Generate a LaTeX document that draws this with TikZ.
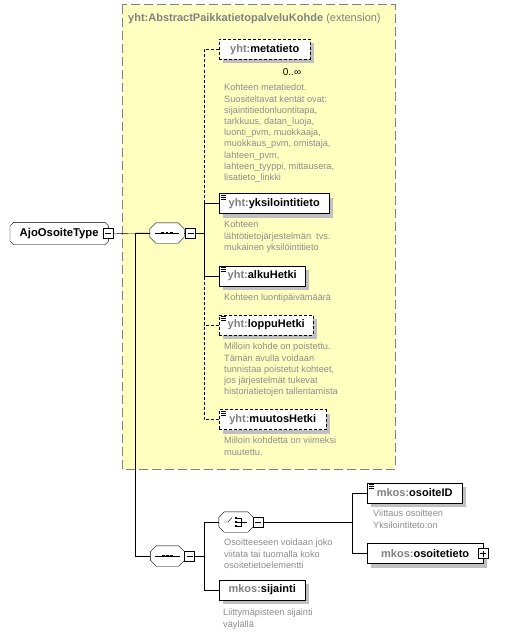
\documentclass[tikz,border=0pt]{standalone}
\usepackage{fontspec}
\setmainfont{Liberation Sans}
\usetikzlibrary{calc, positioning, shadows, backgrounds}
\definecolor{extfill}{RGB}{255,255,192}
\definecolor{extline}{RGB}{128,128,128}
\definecolor{nsgray}{RGB}{128,128,128}
\definecolor{desccol}{RGB}{140,140,140}
\definecolor{shadowgray}{RGB}{192,192,192}
\pgfdeclarelayer{back}
\pgfdeclarelayer{shapes}
\pgfsetlayers{back,shapes,main}
\newcommand{\pfx}[1]{{\color{nsgray}#1:}}
\newcommand{\annot}[1]{\foreach \k in {2,4,6} \draw[line width=0.8pt] ([xshift=1.5pt,yshift=-\k pt]#1.north west) -- ++(5,0);}
\newcommand{\octpath}[2]{([xshift=#2]#1.north west) -- ([xshift=-#2]#1.north east) -- ([yshift=-#2]#1.north east) -- ([yshift=#2]#1.south east) -- ([xshift=-#2]#1.south east) -- ([xshift=#2]#1.south west) -- ([yshift=#2]#1.south west) -- ([yshift=-#2]#1.north west) -- cycle}
\newcommand{\octa}[2]{\begin{pgfonlayer}{shapes}
  \fill[shadowgray, xshift=4pt, yshift=-4pt] \octpath{#1}{#2};
  \filldraw[fill=white] \octpath{#1}{#2};
\end{pgfonlayer}}

\begin{document}
\begin{tikzpicture}[x=1pt, y=-1pt,
  shadowed/.style={drop shadow={shadow xshift=4pt, shadow yshift=-4pt, fill=shadowgray, opacity=1}},
  elem/.style={draw, fill=white, anchor=west, minimum height=20pt, inner sep=0pt, font=\fontsize{11}{13}\selectfont\bfseries, shadowed},
  optelem/.style={elem, dash pattern=on 3pt off 2pt},
  seqbox/.style={minimum width=34pt, minimum height=20pt, inner sep=0pt},
  typebox/.style={minimum width=98pt, minimum height=22pt, inner sep=0pt, anchor=west, font=\fontsize{11.3}{13}\selectfont\bfseries},
  pm/.style={draw, fill=white, minimum size=10pt, inner sep=0pt, path picture={\draw ([xshift=2pt]path picture bounding box.west) -- ([xshift=-2pt]path picture bounding box.east);}},
  pp/.style={draw, fill=white, minimum size=10pt, inner sep=0pt, path picture={\draw ([xshift=2pt]path picture bounding box.west) -- ([xshift=-2pt]path picture bounding box.east); \draw ([yshift=2pt]path picture bounding box.south) -- ([yshift=-2pt]path picture bounding box.north);}},
  desc/.style={anchor=north west, inner sep=0pt, align=left, text=desccol, font=\fontsize{9.2}{11.2}\selectfont},
  optline/.style={dash pattern=on 3pt off 2pt}]
\useasboundingbox (0,0) rectangle (511,634);
\begin{pgfonlayer}{back}
\draw[fill=extfill, draw=extline, line width=1pt, dash pattern=on 9pt off 4pt] (122,5) rectangle (395,469);
\end{pgfonlayer}
\node[anchor=west, inner sep=0pt, text=nsgray, font=\fontsize{11}{13}\selectfont] (title) at (128,19) {\textbf{yht:AbstractPaikkatietopalveluKohde} (extension)};

\node[typebox] (ajo) at (10,233.5) {AjoOsoiteType\hspace{6pt}};
\octa{ajo}{3.5pt}
\node[pm] (ajom) at (108,233.5) {};
\node[seqbox] (seqa) at (167,233) {};
\octa{seqa}{6pt}
\node[pm] (seqam) at (190.5,233) {};
\node[seqbox] (seqb) at (167.5,556) {};
\octa{seqb}{6pt}
\node[pm] (seqbm) at (189.5,556) {};

\node[optelem, minimum width=91pt] (meta) at (219,49.5) {\pfx{yht}metatieto};
\node[elem, minimum width=110pt] (yksi) at (219,203.5) {\pfx{yht}yksilointitieto};
\node[elem, minimum width=86pt] (alku) at (219,276) {\pfx{yht}alkuHetki};
\node[optelem, minimum width=94pt] (loppu) at (219,325) {\pfx{yht}loppuHetki};
\node[optelem, minimum width=107pt] (muutos) at (219,419.5) {\pfx{yht}muutosHetki};
\annot{yksi}
\annot{alku}
\annot{loppu}
\annot{muutos}

\node[seqbox] (choice) at (236,522) {};
\octa{choice}{5.5pt}
\node[pm] (choicem) at (258,522) {};
\node[elem, minimum width=86pt] (sij) at (219,590) {\pfx{mkos}sijainti};
\node[elem, minimum width=95pt] (oid) at (367,493) {\pfx{mkos}osoiteID};
\node[elem, minimum width=116pt] (oti) at (367,553.5) {\pfx{mkos}osoitetieto\hspace{6pt}};
\node[pp] (otip) at (483,553.5) {};
\annot{oid}

\draw ([xshift=5pt]seqa.west) -- ([xshift=-5pt]seqa.east);
\draw ([xshift=5pt]seqb.west) -- ([xshift=-5pt]seqb.east);
\foreach \d in {-4.2,0,4.2} {
  \fill ($(seqa)+(\d,0)$) +(-1.4,-1.4) rectangle +(1.4,1.4);
  \fill ($(seqb)+(\d,0)$) +(-1.4,-1.4) rectangle +(1.4,1.4);
}
\draw ($(choice)+(-12,0)$) -- ++(4,0) -- ++(4,-4.5);
\foreach \d in {-4,0,4} \fill ($(choice)+(0,\d)$) +(-1.4,-1.4) rectangle +(1.4,1.4);
\draw ($(choice)+(1.4,-4)$) -- ++(4,0) -- ++(0,8) -- ++(-4,0);
\draw ($(choice)+(1.4,0)$) -- ++(10,0);

\draw (ajom.east) -- (seqa.west);
\draw (seqa.east) -- (seqam.west);
\draw (seqb.east) -- (seqbm.west);
\draw (choice.east) -- (choicem.west);
\draw (seqa.west) -- ++(-15,0) |- (seqb.west);
\draw[optline] (meta.west) -- ++(-15,0) |- (seqam.east);
\draw[optline] (loppu.west) -- ++(-15,0) |- (seqam.east);
\draw[optline] (muutos.west) -- ++(-15,0) |- (seqam.east);
\draw (yksi.west) -- ++(-15,0) |- (seqam.east);
\draw (alku.west) -- ++(-15,0) |- (seqam.east);
\draw (choice.west) -- ++(-15,0) |- (seqbm.east);
\draw (sij.west) -- ++(-15,0) |- (seqbm.east);
\draw (oid.west) -- ++(-15,0) |- (choicem.east);
\draw (oti.west) -- ++(-15,0) |- (choicem.east);

\node[inner sep=0pt, font=\fontsize{10}{12}\selectfont] (metamult) at (292,72) {0..∞};
\node[desc] (metad) at (224,84) {Kohteen metatiedot.\\Suositeltavat kentät ovat:\\sijaintitiedonluontitapa,\\tarkkuus, datan\_luoja,\\luonti\_pvm, muokkaaja,\\muokkaus\_pvm, omistaja,\\lahteen\_pvm,\\lahteen\_tyyppi, mittausera,\\lisatieto\_linkki};
\node[desc] (yksid) at (224,221) {Kohteen\\lähtötietojärjestelmän\ \ tvs.\\mukainen yksilöintitieto};
\node[desc] (alkud) at (224,294) {Kohteen luontipäivämäärä};
\node[desc] (loppud) at (224,343) {Milloin kohde on poistettu.\\Tämän avulla voidaan\\tunnistaa poistetut kohteet,\\jos järjestelmät tukevat\\historiatietojen tallentamista};
\node[desc] (muutosd) at (224,437) {Milloin kohdetta on viimeksi\\muutettu.};
\node[desc] (choiced) at (224,539) {Osoitteeseen voidaan joko\\viitata tai tuomalla koko\\osoitetietoelementti};
\node[desc] (sijd) at (223,609) {Liittymäpisteen sijainti\\väylällä};
\node[desc] (oidd) at (373,510) {Viittaus osoitteen\\Yksilointiteto:on};
\end{tikzpicture}
\end{document}
